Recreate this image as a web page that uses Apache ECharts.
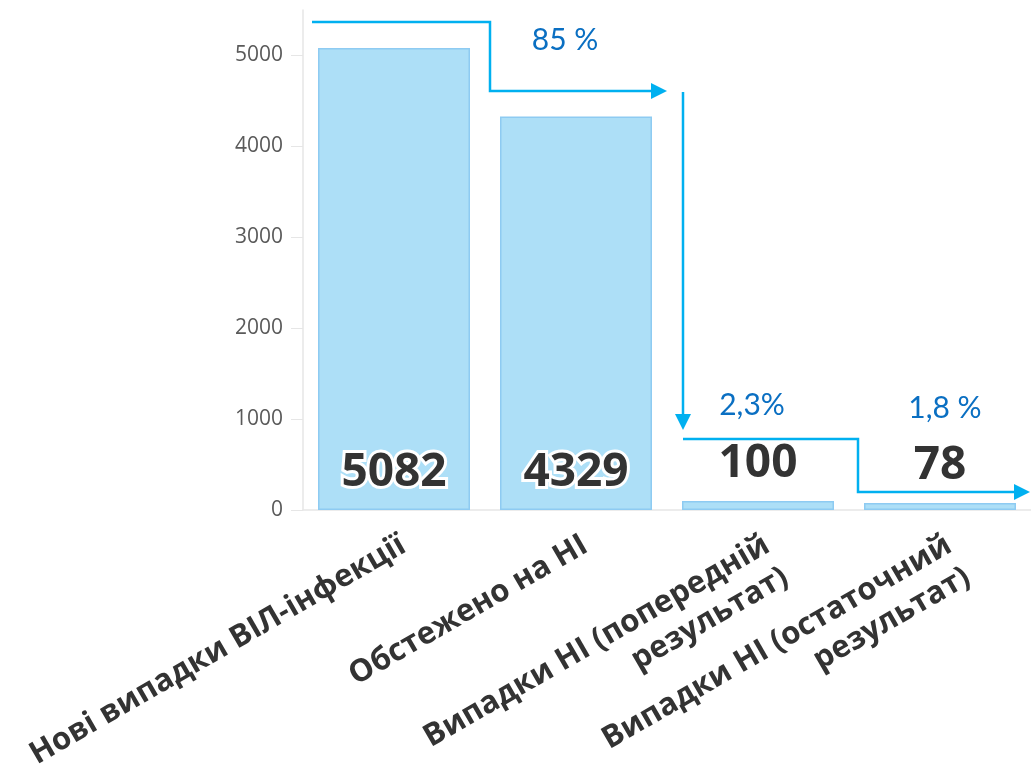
<!DOCTYPE html>
<html>
<head>
<meta charset="utf-8">
<script src="https://cdn.jsdelivr.net/npm/echarts@6/dist/echarts.min.js"></script>
<style>
  html, body { margin: 0; padding: 0; background: #fff; }
  #chart { width: 1031px; height: 769px; }
</style>
</head>
<body>
<div id="chart"></div>
<script>
// categories and values
const categories = [
  'Нові випадки ВІЛ-інфекції',
  'Обстежено на НІ',
  'Випадки НІ (попередній\nрезультат)',
  'Випадки НІ (остаточний\nрезультат)'
];
const values = [5082, 4329, 100, 78];
const yTicks = [0, 1000, 2000, 3000, 4000, 5000];
const shares = ['85 %', '2,3%', '1,8 %'];

const arrowColor = '#00b0f0';
const shareColor = '#0a6fc2';

function arrowHead (tip, dir) {
  // small filled triangle pointing in dir ('right' or 'down')
  const [x, y] = tip;
  const pts = dir === 'right'
    ? [[x, y], [x - 16, y - 8], [x - 16, y + 8]]
    : [[x, y], [x - 8, y - 16], [x + 8, y - 16]];
  return { type: 'polygon', shape: { points: pts }, style: { fill: arrowColor } };
}

function line (points) {
  return {
    type: 'polyline',
    shape: { points: points },
    style: { stroke: arrowColor, lineWidth: 2.5, fill: null }
  };
}

function share (text, x, y) {
  return {
    type: 'text',
    x: x, y: y,
    style: {
      text: text,
      fill: shareColor,
      font: '30px Lato, "Open Sans", sans-serif',
      align: 'center',
      verticalAlign: 'middle'
    }
  };
}

const chart = echarts.init(document.getElementById('chart'));

const option = {
  animation: false,
  grid: { left: 303, right: 0, top: 10, bottom: 259, outerBoundsMode: 'none', containLabel: false },
  xAxis: {
    type: 'category',
    data: categories,
    axisLine: { lineStyle: { color: '#e6e6e6', width: 1.5 } },
    axisTick: { alignWithLabel: true, length: 12, lineStyle: { color: '#e6e6e6' } },
    axisLabel: {
      rotate: 30,
      margin: 17,
      interval: 0,
      color: '#333',
      fontSize: 31,
      fontWeight: 'bold',
      lineHeight: 37,
      verticalAlign: 'top',
      fontFamily: '"Open Sans", sans-serif'
    }
  },
  yAxis: {
    type: 'value',
    min: 0,
    max: 5500,
    interval: 1000,
    axisLine: { show: true, lineStyle: { color: '#e6e6e6', width: 1.5 } },
    axisTick: { show: true, length: 12, customValues: yTicks, lineStyle: { color: '#e6e6e6' } },
    axisLabel: {
      customValues: yTicks,
      formatter: v => String(v),
      margin: 20,
      color: '#5a5a5a',
      fontSize: 21,
      fontFamily: '"Open Sans", sans-serif'
    },
    splitLine: { show: false }
  },
  series: [{
    type: 'bar',
    barWidth: 152,
    itemStyle: { color: '#addff7', borderColor: '#8ecbf2', borderWidth: 1.5 },
    label: {
      show: true,
      color: '#333',
      fontSize: 46,
      fontWeight: 'bold',
      fontFamily: '"Open Sans", sans-serif',
      textBorderColor: '#fff',
      textBorderWidth: 6
    },
    data: values.map((v, i) => ({
      value: v,
      label: i < 2
        ? { position: 'insideBottom', distance: 14 }
        : { position: 'top', distance: 14 }
    }))
  }],
  graphic: [
    line([[312, 22], [490, 22], [490, 91], [655, 91]]),
    arrowHead([667, 91], 'right'),
    line([[683, 92], [683, 418]]),
    arrowHead([683, 430], 'down'),
    line([[683, 439], [858, 439], [858, 492], [1018, 492]]),
    arrowHead([1030, 492], 'right'),
    share(shares[0], 565, 40),
    share(shares[1], 752, 405),
    share(shares[2], 945, 408)
  ]
};

chart.setOption(option);
</script>
</body>
</html>
